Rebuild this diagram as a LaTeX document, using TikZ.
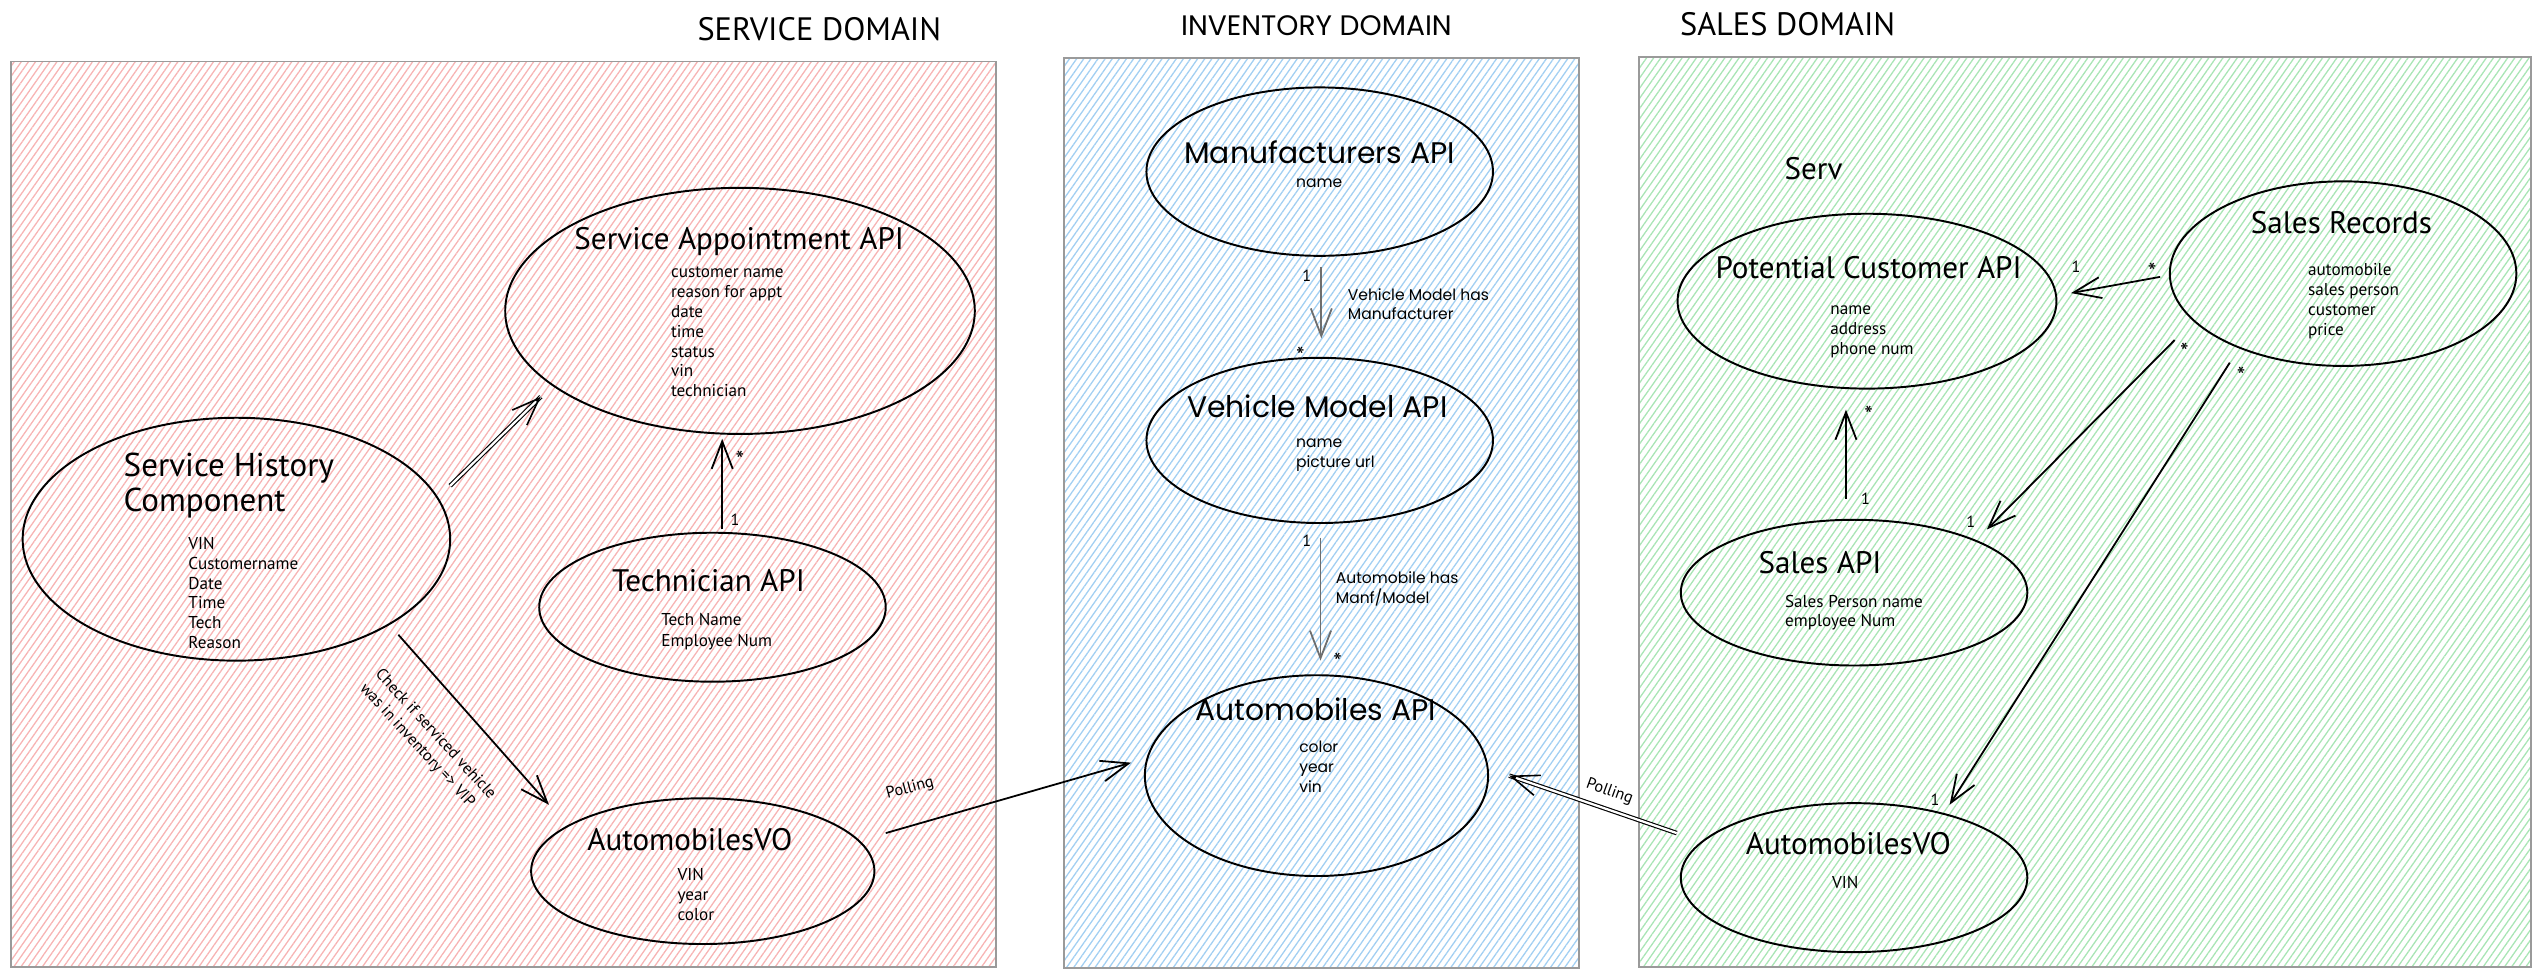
\documentclass[tikz,border=0pt]{standalone}
\usepackage{fontspec}
\setmainfont{PT Sans}
\newfontfamily\hand{PT Sans}
\newfontfamily\geo{Poppins}
\usetikzlibrary{arrows.meta,shapes.geometric,patterns.meta,calc}
\definecolor{hpink}{HTML}{F7B4B4}
\definecolor{hblue}{HTML}{A2CFF2}
\definecolor{hgreen}{HTML}{A9E5B5}
\definecolor{boxgray}{HTML}{9A9A9A}
\definecolor{arrgray}{HTML}{6E6E6E}
\tikzset{
  domainbox/.style={draw=boxgray, line width=0.6pt, pattern={Lines[angle=55,distance=1.8pt,line width=0.4pt]}},
  ell/.style={ellipse, draw=black, line width=0.6pt, inner sep=0pt, outer sep=0pt},
  ttl/.style={font=\hand\fontsize{9.6}{11}\selectfont, inner sep=0pt, anchor=base},
  ttlL/.style={ttl, font=\hand\fontsize{10.2}{12}\selectfont, anchor=base west},
  fld/.style={font=\hand\fontsize{5.3}{6.5}\selectfont, inner sep=0pt, anchor=base west},
  dtitle/.style={font=\hand\fontsize{10}{12}\selectfont, inner sep=0pt, anchor=base},
  ititle/.style={font=\geo\fontsize{8.7}{10}\selectfont, inner sep=0pt, anchor=base},
  ittl/.style={font=\geo\fontsize{9.2}{11}\selectfont, inner sep=0pt, anchor=base},
  ifld/.style={font=\geo\fontsize{4.8}{6}\selectfont, inner sep=0pt, anchor=base west},
  mult/.style={font=\hand\fontsize{5}{6}\selectfont, inner sep=0pt},
  star/.style={font=\hand\fontsize{7.5}{8}\selectfont, inner sep=0pt},
  lbl/.style={font=\hand\fontsize{5}{6.5}\selectfont, inner sep=0pt},
  conn/.style={line width=0.55pt, -{Straight Barb[length=8.5pt,width=6.5pt]}},
  iconn/.style={conn, draw=arrgray},
  dline/.style={double, double distance=0.7pt, line width=0.35pt},
  tiponly/.style={line width=0.5pt, -{Straight Barb[length=8.5pt,width=6.5pt]}},
}
\begin{document}
\begin{tikzpicture}[x=0.5pt,y=-0.5pt]
\useasboundingbox (0,0) rectangle (1568,603);
% domain boxes
\path[domainbox, pattern color=hpink] (7,38) rectangle (615,597);
\path[domainbox, pattern color=hblue] (657,36) rectangle (975,598);
\path[domainbox, pattern color=hgreen] (1012,35) rectangle (1563,597);
\node[dtitle] (tsvc) at (506,25) {SERVICE DOMAIN};
\node[ititle] (tinv) at (813,22) {INVENTORY DOMAIN};
\node[dtitle] (tsal) at (1104,22) {SALES DOMAIN};

% ---------- service domain ----------
\node[ell, minimum width=145pt, minimum height=76pt] (sa) at (457,192) {};
\node[ttl] (sat) at (456.5,154) {Service Appointment API};
\foreach \t [count=\i from 0] in {customer name,reason for appt,date,time,status,vin,technician}
  \node[fld] (saf\i) at (414,171.6+12.23*\i) {\t};

\node[ell, minimum width=132pt, minimum height=75pt] (sh) at (146,333) {};
\node[ttlL] (sht1) at (76,294) {Service History};
\node[ttlL] (sht2) at (76,316) {Component};
\foreach \t [count=\i from 0] in {VIN,Customername,Date,Time,Tech,Reason}
  \node[fld] (shf\i) at (116,339.5+12.2*\i) {\t};

\node[ell, minimum width=107pt, minimum height=46pt] (tech) at (440,375) {};
\node[ttl] (techt) at (437.5,365) {Technician API};
\node[fld] (techf0) at (408,386) {Tech Name};
\node[fld] (techf1) at (408,399) {Employee Num};

\node[ell, minimum width=106pt, minimum height=45pt] (avo1) at (434,538) {};
\node[ttl] (avo1t) at (426,525) {AutomobilesVO};
\foreach \t [count=\i from 0] in {VIN,year,color}
  \node[fld] (avo1f\i) at (418,543.5+12.5*\i) {\t};

% ---------- inventory domain ----------
\node[ell, minimum width=107pt, minimum height=52pt] (manu) at (815,106) {};
\node[ittl] (manut) at (815,101) {Manufacturers API};
\node[ifld] (manuf0) at (800,115.5) {name};

\node[ell, minimum width=107pt, minimum height=51pt] (vm) at (815,272) {};
\node[ittl] (vmt) at (813.5,258) {Vehicle Model API};
\node[ifld] (vmf0) at (800,276.5) {name};
\node[ifld] (vmf1) at (800,288.5) {picture url};

\node[ell, minimum width=106pt, minimum height=62pt] (auto) at (813,479) {};
\node[ittl] (autot) at (812.5,445) {Automobiles API};
\foreach \t [count=\i from 0] in {color,year,vin}
  \node[ifld] (autof\i) at (802,465+12.3*\i) {\t};

% ---------- sales domain ----------
\node[ttl] (serv) at (1120,111) {Serv};

\node[ell, minimum width=117pt, minimum height=54pt] (pc) at (1153,186) {};
\node[ttl] (pct) at (1154,172) {Potential Customer API};
\foreach \t [count=\i from 0] in {name,address,phone num}
  \node[fld] (pcf\i) at (1130,194+12.5*\i) {\t};

\node[ell, minimum width=107pt, minimum height=57pt] (sr) at (1447,169) {};
\node[ttl] (srt) at (1446,144) {Sales Records};
\foreach \t [count=\i from 0] in {automobile,sales person,customer,price}
  \node[fld] (srf\i) at (1425,170+12.3*\i) {\t};

\node[ell, minimum width=107pt, minimum height=45pt] (sapi) at (1145,366) {};
\node[ttl] (sapit) at (1124,354) {Sales API};
\node[fld] (sapif0) at (1102,375) {Sales Person name};
\node[fld] (sapif1) at (1102,387) {employee Num};

\node[ell, minimum width=107pt, minimum height=46pt] (avo2) at (1145,542) {};
\node[ttl] (avo2t) at (1141.5,528) {AutomobilesVO};
\node[fld] (avo2f0) at (1131,548.5) {VIN};

% ---------- connectors ----------
% service history -> service appointment (double)
\coordinate (c1s) at ($(sh)+(132,-33)$);
\coordinate (c1e) at ($(sa)+(-123,53)$);
\draw[dline] (c1s) -- (c1e);
\draw[tiponly] ($(c1s)!0.95!(c1e)$) -- (c1e);

% technician -> service appointment
\draw[conn] ($(tech)+(6,-48)$) -- ($(sa)+(-11,79)$);
\node[star] (m2a) at (457,284) {*};
\node[mult] (m2b) at (454,321) {1};

% service history -> automobilesVO
\draw[conn] ($(sh)+(100,59)$) -- ($(avo1)+(-95,-41)$);
\node[lbl, align=left, rotate=-47.4] (chk) at (264,458) {Check if serviced vehicle\\was in inventory => VIP};

% automobilesVO -> automobiles API (polling)
\draw[conn] ($(avo1)+(113,-23.5)$) -- ($(auto)+(-114.5,-8)$);
\node[lbl, rotate=15] (poll1) at (562,487) {Polling};

% manufacturers -> vehicle model
\draw[iconn] ($(manu)+(1,59)$) -- ($(vm)+(1,-63)$);
\node[mult] (m5a) at (807,170) {1};
\node[star] (m5b) at (803,220) {*};
\node[ifld, anchor=west] (l5a) at (832,182) {Vehicle Model has};
\node[ifld, anchor=west] (l5b) at (832,194) {Manufacturer};

% vehicle model -> automobiles
\draw[iconn] ($(vm)+(0.5,60)$) -- ($(auto)+(2.5,-71)$);
\node[mult] (m6a) at (807,334) {1};
\node[star] (m6b) at (826,409) {*};
\node[ifld, anchor=west] (l6a) at (824.6,357) {Automobile has};
\node[ifld, anchor=west] (l6b) at (824.6,369) {Manf/Model};

% sales automobilesVO -> automobiles API (polling, double)
\coordinate (c7s) at ($(avo2)+(-109.5,-27.5)$);
\coordinate (c7e) at ($(auto)+(119,0)$);
\draw[dline] (c7s) -- (c7e);
\draw[tiponly] ($(c7s)!0.96!(c7e)$) -- (c7e);
\node[lbl, rotate=-20] (poll2) at (994,489) {Polling};

% sales records -> potential customer
\draw[conn] ($(sr)+(-113,2)$) -- ($(pc)+(126,-5)$);
\node[mult] (m8a) at (1282,165) {1};
\node[star] (m8b) at (1329,168) {*};

% sales API -> potential customer
\draw[conn] ($(sapi)+(-5,-58)$) -- ($(pc)+(-13,67)$);
\node[star] (m9a) at (1154,256) {*};
\node[mult] (m9b) at (1152,308) {1};

% sales records -> sales API
\draw[conn] ($(sr)+(-104,41)$) -- ($(sapi)+(82,-39)$);
\node[star] (m10a) at (1349,217) {*};
\node[mult] (m10b) at (1217,322) {1};

% sales records -> sales automobilesVO
\draw[conn] ($(sr)+(-70,55)$) -- ($(avo2)+(59,-45)$);
\node[star] (m11a) at (1384,232) {*};
\node[mult] (m11b) at (1195,494) {1};
\end{tikzpicture}
\end{document}
